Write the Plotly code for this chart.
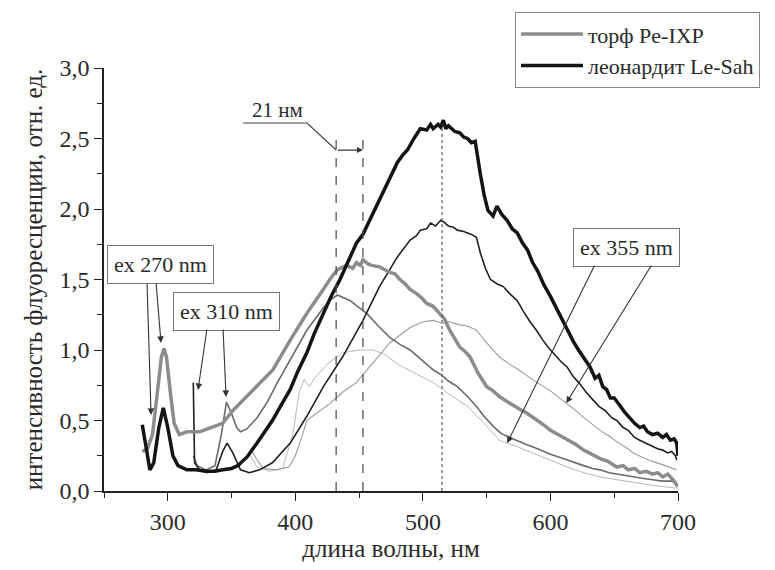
import plotly.graph_objects as go

# ---- data ----
# leonardite Le-Sah, ex 270 nm (thick black)
leo270_x = [280, 283, 286, 289, 293, 296.5, 300, 304, 308, 315, 322, 330, 337, 343, 350, 355, 362, 370, 376, 382, 389, 396, 402, 409, 415, 422, 428, 435, 442, 448, 453, 460, 466, 473, 480, 484, 488, 493, 498, 503, 506, 508, 512, 514, 516, 518, 520, 525, 529, 532, 535, 538, 541, 545, 548, 551, 555, 558, 562, 566, 570, 574, 578, 582, 586, 590, 595, 600, 606, 613, 618, 622, 627, 631, 635, 638, 641, 644, 647, 650, 655, 658, 662, 666, 670, 673, 676, 680, 684, 688, 691, 694, 697, 699, 700]
leo270_y = [0.47, 0.30, 0.15, 0.20, 0.45, 0.59, 0.45, 0.25, 0.18, 0.15, 0.15, 0.14, 0.14, 0.15, 0.16, 0.18, 0.24, 0.34, 0.42, 0.50, 0.61, 0.72, 0.85, 0.98, 1.12, 1.26, 1.38, 1.50, 1.64, 1.76, 1.82, 1.95, 2.06, 2.20, 2.33, 2.38, 2.42, 2.50, 2.57, 2.56, 2.60, 2.57, 2.60, 2.58, 2.63, 2.57, 2.59, 2.55, 2.54, 2.51, 2.50, 2.47, 2.48, 2.25, 2.10, 1.99, 1.95, 2.02, 1.96, 1.92, 1.86, 1.83, 1.76, 1.71, 1.62, 1.56, 1.46, 1.38, 1.27, 1.14, 1.06, 1.00, 0.93, 0.88, 0.80, 0.82, 0.74, 0.72, 0.66, 0.66, 0.60, 0.56, 0.52, 0.48, 0.45, 0.46, 0.42, 0.40, 0.41, 0.38, 0.40, 0.36, 0.37, 0.34, 0.25]

# peat Pe-IXP, ex 270 nm (thick grey)
peat270_x = [280, 284, 288, 292, 295, 297, 299, 302, 305, 309, 315, 325, 335, 343, 351, 362, 372, 382.5, 396, 409, 422, 427, 433, 440, 445, 448, 451, 453, 457, 460, 466, 470, 474, 478, 482, 486, 490, 495, 499, 503, 508, 513, 517, 521, 525, 529, 533, 537, 543, 550, 555, 560, 565, 570, 576, 582, 587, 591, 596, 600, 606, 613, 620, 626, 632, 639, 645, 652, 657, 661, 666, 670, 675, 680, 684, 688, 692, 696, 700]
peat270_y = [0.28, 0.30, 0.40, 0.70, 0.95, 1.01, 0.95, 0.70, 0.48, 0.40, 0.42, 0.42, 0.45, 0.48, 0.57, 0.67, 0.76, 0.86, 1.07, 1.26, 1.43, 1.50, 1.57, 1.60, 1.58, 1.62, 1.60, 1.64, 1.61, 1.60, 1.59, 1.57, 1.55, 1.54, 1.50, 1.47, 1.43, 1.40, 1.37, 1.33, 1.31, 1.26, 1.22, 1.14, 1.08, 1.02, 0.99, 0.95, 0.84, 0.74, 0.71, 0.67, 0.64, 0.61, 0.58, 0.55, 0.52, 0.49, 0.46, 0.43, 0.40, 0.36, 0.33, 0.29, 0.26, 0.23, 0.21, 0.17, 0.18, 0.15, 0.16, 0.13, 0.14, 0.12, 0.13, 0.10, 0.12, 0.08, 0.03]

# leonardite, ex 310 nm (medium black)
leo310_x = [320, 321, 325, 331, 338, 343, 346.5, 351, 357, 364, 372, 382, 396, 409, 422, 437, 453, 466, 480, 490, 495, 498, 503, 506, 510, 514, 516, 520, 524, 527, 532, 538, 542, 545, 549, 553, 558, 563, 568, 574, 579, 584, 589, 594, 599, 603, 608, 613, 618, 623, 628, 633, 638, 643, 648, 652, 657, 661, 666, 670, 675, 680, 684, 688, 692, 695, 698, 699]
leo310_y = [0.77, 0.20, 0.15, 0.13, 0.15, 0.28, 0.34, 0.27, 0.15, 0.13, 0.15, 0.20, 0.34, 0.53, 0.74, 0.95, 1.21, 1.45, 1.66, 1.78, 1.81, 1.85, 1.86, 1.90, 1.88, 1.92, 1.91, 1.88, 1.87, 1.85, 1.84, 1.82, 1.80, 1.69, 1.58, 1.50, 1.47, 1.45, 1.40, 1.35, 1.27, 1.20, 1.14, 1.07, 1.01, 0.97, 0.92, 0.88, 0.81, 0.76, 0.70, 0.65, 0.60, 0.57, 0.52, 0.50, 0.45, 0.43, 0.38, 0.36, 0.34, 0.32, 0.30, 0.29, 0.27, 0.28, 0.25, 0.22]

# peat, ex 310 nm (medium grey)
peat310_x = [320, 323, 330, 337, 342, 346, 350, 354, 357, 362, 370, 378, 386, 396, 409, 422, 428, 433, 438, 443, 450, 456, 465, 474, 482, 490, 499, 508, 515, 520, 527, 535, 542, 548, 555, 561, 568, 575, 581, 587, 594, 600, 607, 613, 620, 626, 633, 639, 646, 652, 659, 665, 672, 680, 688, 695, 699]
peat310_y = [0.25, 0.18, 0.15, 0.18, 0.40, 0.63, 0.55, 0.45, 0.42, 0.44, 0.52, 0.63, 0.77, 0.93, 1.14, 1.30, 1.36, 1.39, 1.37, 1.35, 1.30, 1.26, 1.17, 1.09, 1.04, 1.00, 0.93, 0.86, 0.82, 0.78, 0.74, 0.67, 0.60, 0.53, 0.46, 0.41, 0.38, 0.35, 0.33, 0.31, 0.28, 0.26, 0.24, 0.22, 0.20, 0.18, 0.16, 0.15, 0.13, 0.12, 0.11, 0.10, 0.09, 0.08, 0.07, 0.07, 0.06]

# leonardite, ex 355 nm (thin grey)
leo355_x = [365, 370, 375, 385, 395, 400, 405, 409, 418, 427, 437, 448, 460, 474, 490, 500, 508, 515, 521, 528, 535, 542, 550, 560, 568, 575, 586, 593, 600, 607, 613, 620, 626, 633, 639, 646, 652, 659, 665, 672, 680, 690, 699]
leo355_y = [0.30, 0.22, 0.16, 0.15, 0.17, 0.25, 0.38, 0.50, 0.56, 0.62, 0.70, 0.77, 0.90, 1.05, 1.16, 1.20, 1.21, 1.19, 1.20, 1.18, 1.17, 1.14, 1.05, 0.95, 0.90, 0.86, 0.79, 0.75, 0.71, 0.66, 0.62, 0.57, 0.52, 0.47, 0.43, 0.39, 0.35, 0.31, 0.27, 0.24, 0.21, 0.18, 0.15]

# peat, ex 355 nm (lightest grey)
peat355_x = [365, 370, 380, 390, 398, 403, 407, 411, 415, 425, 437, 450, 461, 470, 482, 495, 508, 520, 535, 548, 560, 575, 586, 600, 613, 626, 639, 652, 665, 680, 699]
peat355_y = [0.25, 0.17, 0.14, 0.16, 0.40, 0.70, 0.79, 0.74, 0.80, 0.90, 0.98, 1.00, 1.00, 0.97, 0.89, 0.83, 0.77, 0.69, 0.60, 0.48, 0.36, 0.31, 0.27, 0.22, 0.17, 0.13, 0.10, 0.08, 0.06, 0.04, 0.02]

legend_names = ["торф Pe-IXP", "леонардит Le-Sah"]
peak_peat = [432, 453]
peak_leo = 515

FONT = "Liberation Serif"
TXT = "#2a2a2a"

fig = go.Figure()

def add(x, y, color, width, name=None):
    fig.add_trace(go.Scatter(x=x, y=y, mode="lines", line=dict(color=color, width=width),
                             name=name, showlegend=name is not None, hoverinfo="skip"))

add(peat355_x, peat355_y, "#b8b8b8", 1.0)
add(leo355_x, leo355_y, "#9a9a9a", 1.1)
add(peat310_x, peat310_y, "#6a6a6a", 1.6)
add(leo310_x, leo310_y, "#202020", 1.6)
add(peat270_x, peat270_y, "#8c8c8c", 3.5, legend_names[0])
add(leo270_x, leo270_y, "#141414", 3.5, legend_names[1])

# vertical reference lines
for xv in peak_peat:
    fig.add_shape(type="line", x0=xv, x1=xv, y0=0, y1=2.51, xref="x", yref="y",
                  line=dict(color="#555", width=1.3, dash="dash"))
fig.add_shape(type="line", x0=peak_leo, x1=peak_leo, y0=0, y1=2.6, xref="x", yref="y",
              line=dict(color="#666", width=1.3, dash="dot"))

# "21 нм" leader
fig.add_shape(type="path", path="M 359,2.61 L 409.2,2.61 L 432,2.418", xref="x", yref="y",
              line=dict(color="#444", width=1.2))
fig.add_annotation(x=453, y=2.418, ax=432, ay=2.418, axref="x", ayref="y", xref="x", yref="y",
                   text="", showarrow=True, arrowhead=2, arrowsize=1, arrowwidth=1.2, arrowcolor="#333")
fig.add_annotation(x=385.7, y=2.605, yanchor="bottom", text="21 нм", showarrow=False,
                   font=dict(family=FONT, size=21, color=TXT))

# boxes
boxes = [("ex 270 nm", 294.3, 1.606), ("ex 310 nm", 345.7, 1.273), ("ex 355 nm", 659.8, 1.727)]
for t, bx, by in boxes:
    fig.add_annotation(x=bx, y=by, text=t, showarrow=False, bgcolor="white",
                       bordercolor="#777", borderwidth=1, borderpad=6,
                       font=dict(family=FONT, size=22, color=TXT))

arrows = [(283.7, 1.482, 286.9, 0.539), (290.8, 1.482, 294.7, 1.05),
          (330.8, 1.156, 323.7, 0.716), (343.3, 1.156, 345.7, 0.667),
          (635.1, 1.61, 566.1, 0.34), (679.8, 1.61, 612.4, 0.624)]
for tx, ty, hx, hy in arrows:
    fig.add_annotation(x=hx, y=hy, ax=tx, ay=ty, axref="x", ayref="y", xref="x", yref="y",
                       text="", showarrow=True, arrowhead=2, arrowsize=1.2, arrowwidth=1.1,
                       arrowcolor="#333")

fig.update_layout(
    width=775, height=570,
    margin=dict(l=104, r=97, t=68, b=79, autoexpand=False),
    paper_bgcolor="white", plot_bgcolor="white",
    separators=", ",
    font=dict(family=FONT, color=TXT),
    showlegend=True,
    legend=dict(x=0.716, y=1.132, xanchor="left", yanchor="top",
                bordercolor="#888", borderwidth=1, bgcolor="white",
                font=dict(family=FONT, size=22, color=TXT), itemwidth=62,
                tracegroupgap=0),
    xaxis=dict(range=[250, 700], showline=True, linecolor="#222", linewidth=1.5,
               showgrid=False, zeroline=False, ticks="outside", ticklen=8, tickwidth=1.3,
               tickcolor="#222", tickvals=[300, 400, 500, 600, 700], automargin=False,
               minor=dict(dtick=50, tick0=250, ticks="outside", ticklen=5, tickwidth=1.3, tickcolor="#222", showgrid=False),
               tickfont=dict(family=FONT, size=24, color=TXT),
               title=dict(text="длина волны, нм", font=dict(family=FONT, size=25, color=TXT), standoff=6)),
    yaxis=dict(range=[0, 3], showline=True, linecolor="#222", linewidth=1.5,
               showgrid=False, zeroline=False, ticks="outside", ticklen=8, tickwidth=1.3,
               tickcolor="#222", dtick=0.5, tick0=0, tickformat=".1f", automargin=False,
               minor=dict(dtick=0.25, ticks="outside", ticklen=5, tickwidth=1.3, tickcolor="#222", showgrid=False),
               tickfont=dict(family=FONT, size=24, color=TXT),
               title=dict(text="интенсивность флуоресценции, отн. ед.", font=dict(family=FONT, size=25, color=TXT), standoff=10)),
)

fig.write_html("out.html")
